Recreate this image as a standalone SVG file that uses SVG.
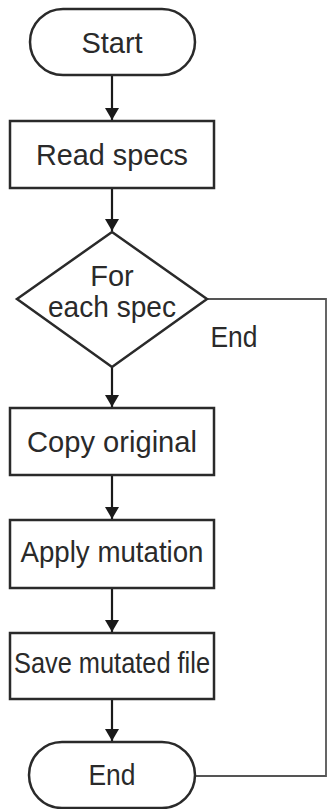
<svg xmlns="http://www.w3.org/2000/svg" width="330" height="809" viewBox="0 0 330 809">
<defs>
<marker id="arr" markerWidth="12" markerHeight="14" refX="12" refY="7" orient="auto" markerUnits="userSpaceOnUse" viewBox="0 0 12 14">
<path d="M0,0 L12,7 L0,14 Z" fill="#1a1a1a"/>
</marker>
</defs>
<style>
.shape{fill:#fff;stroke:#2a2a2a;stroke-width:2.5}
.lbl{font-family:"Liberation Sans",Arial,sans-serif;font-size:29px;fill:#2a2a2a;text-anchor:middle}
.edge{fill:none;stroke:#1a1a1a;stroke-width:2.2}
.loop{fill:none;stroke:#555;stroke-width:1.8}
</style>
<rect width="330" height="809" fill="#fff"/>
<g id="connectors">
<line class="edge" x1="112" y1="75" x2="112" y2="120" marker-end="url(#arr)"/>
<line class="edge" x1="112" y1="188" x2="112" y2="231" marker-end="url(#arr)"/>
<line class="edge" x1="112" y1="367" x2="112" y2="407" marker-end="url(#arr)"/>
<line class="edge" x1="112" y1="475" x2="112" y2="519" marker-end="url(#arr)"/>
<line class="edge" x1="112" y1="588" x2="112" y2="632" marker-end="url(#arr)"/>
<line class="edge" x1="112" y1="699" x2="112" y2="741" marker-end="url(#arr)"/>
<polyline class="loop" points="207,299 326,299 326,776 196,776"/>
<text class="lbl" x="234" y="347" textLength="47" lengthAdjust="spacingAndGlyphs">End</text>
</g>
<g id="start">
<rect class="shape" x="30" y="9" width="165" height="66" rx="33" ry="33"/>
<text class="lbl" x="112" y="53">Start</text>
</g>
<g id="read">
<rect class="shape" x="10" y="121" width="204" height="67"/>
<text class="lbl" x="112" y="165" textLength="152" lengthAdjust="spacingAndGlyphs">Read specs</text>
</g>
<g id="foreach">
<polygon class="shape" points="112,232 207,299 112,367 17,299"/>
<text class="lbl" x="112" y="286">For</text>
<text class="lbl" x="112" y="317" textLength="128" lengthAdjust="spacingAndGlyphs">each spec</text>
</g>
<g id="copy">
<rect class="shape" x="10" y="408" width="204" height="67"/>
<text class="lbl" x="112" y="452" textLength="170" lengthAdjust="spacingAndGlyphs">Copy original</text>
</g>
<g id="apply">
<rect class="shape" x="10" y="520" width="204" height="68"/>
<text class="lbl" x="112" y="562" textLength="183" lengthAdjust="spacingAndGlyphs">Apply mutation</text>
</g>
<g id="save">
<rect class="shape" x="10" y="633" width="204" height="66"/>
<text class="lbl" x="112" y="673" textLength="196" lengthAdjust="spacingAndGlyphs">Save mutated file</text>
</g>
<g id="end">
<rect class="shape" x="29" y="742" width="166" height="66" rx="33" ry="33"/>
<text class="lbl" x="112" y="785" textLength="47" lengthAdjust="spacingAndGlyphs">End</text>
</g>
</svg>
